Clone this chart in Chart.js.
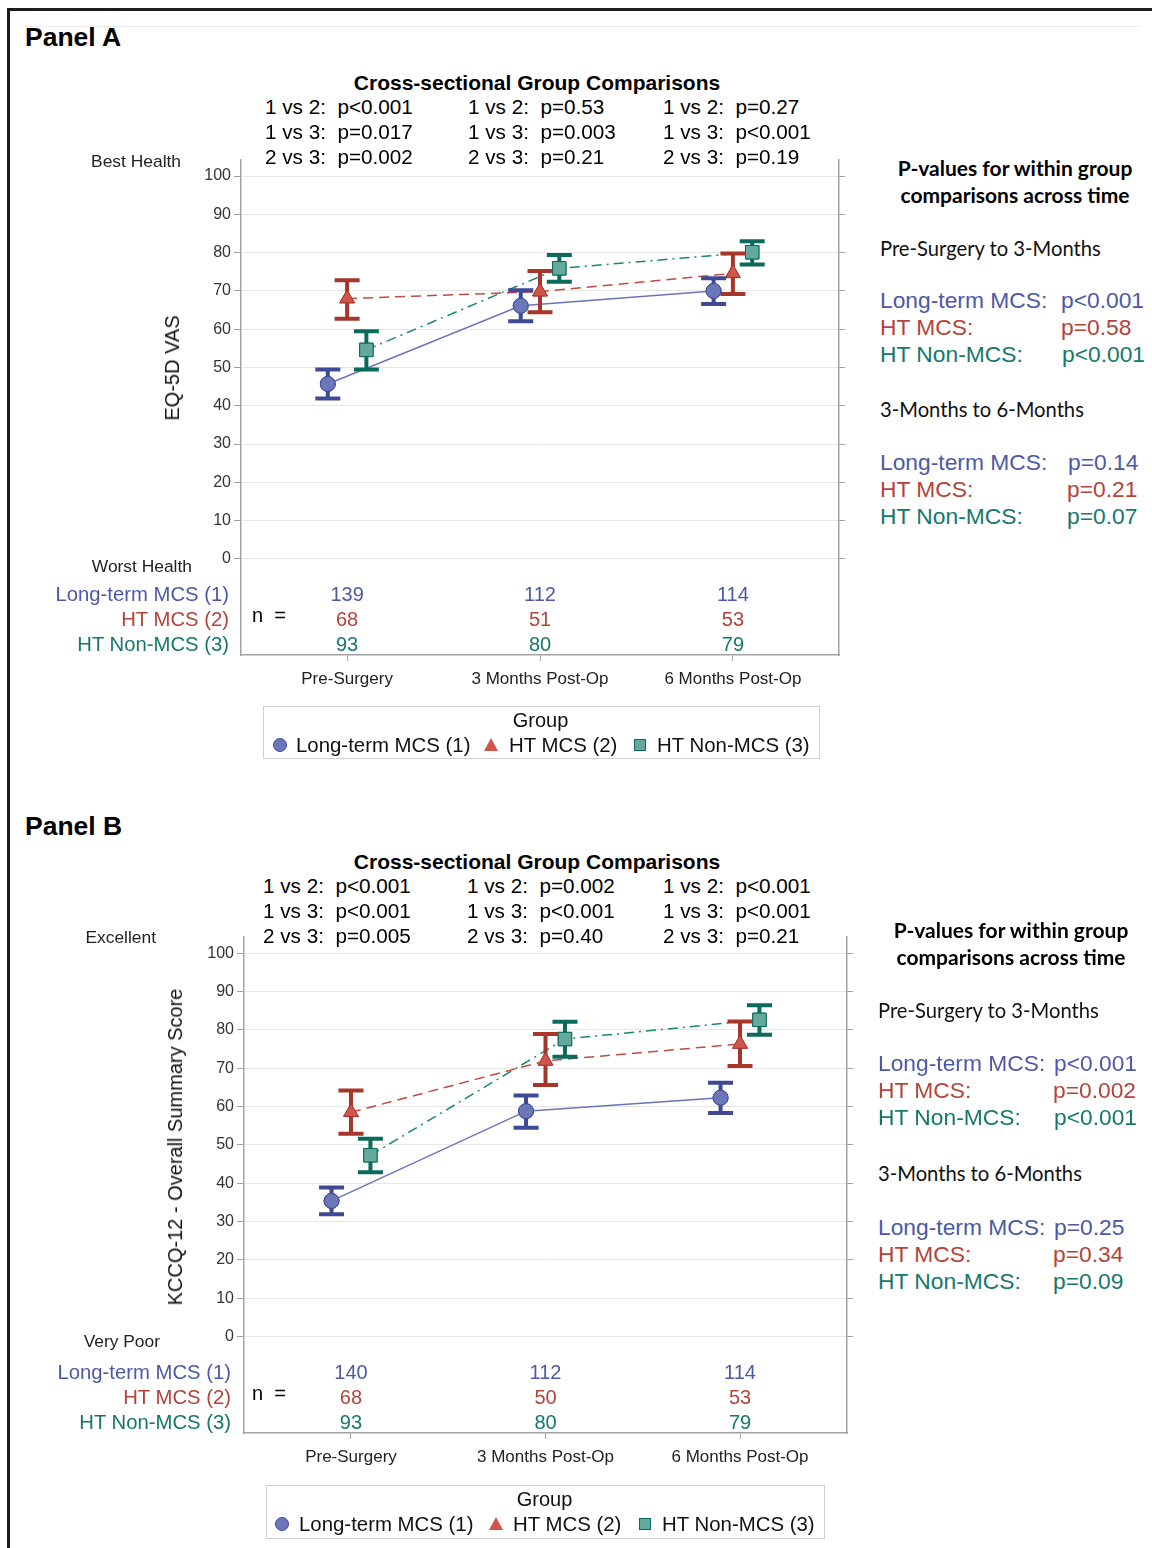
<!DOCTYPE html>
<html>
<head>
<meta charset="utf-8">
<script src="https://cdn.jsdelivr.net/npm/chart.js@4.4.1/dist/chart.umd.min.js"></script>
<style>
  body { margin: 0; background: #fff; }
  #page { position: relative; width: 1152px; height: 1548px; overflow: hidden; font-family: "Liberation Sans", Arial, sans-serif; }
  .t { position: absolute; white-space: pre; line-height: 1; }
  canvas { position: absolute; }
  .frame { position: absolute; left: 7px; top: 8px; width: 1200px; height: 1600px; border-top: 3px solid #1c1c1c; border-left: 3px solid #1c1c1c; }
  .box { position: absolute; border: 1px solid #cfcfcf; }
</style>
</head>
<body>
<div id="page">
  <div class="frame"></div>
  <div style="position:absolute;left:25px;top:26px;width:1115px;height:1px;background:#ececec"></div>
  <canvas id="chartA" width="720" height="570" style="left:140px;top:140px"></canvas>
  <canvas id="chartB" width="728" height="571" style="left:140px;top:917px"></canvas>
</div>
<script>
// time points and groups
const timepoints = ['Pre-Surgery', '3 Months Post-Op', '6 Months Post-Op'];
const groups = ['Long-term MCS (1)', 'HT MCS (2)', 'HT Non-MCS (3)'];
const groupShort = ['Long-term MCS:', 'HT MCS:', 'HT Non-MCS:'];
const yTicks = [0, 10, 20, 30, 40, 50, 60, 70, 80, 90, 100];

// Panel A - EQ-5D VAS (mean, lower, upper)
const vasLongTerm = [45.7, 66.1, 70.0];
const vasLongTermLo = [41.9, 62.1, 66.6];
const vasLongTermHi = [49.5, 70.2, 73.3];
const vasHtMcs = [68.0, 69.8, 74.6];
const vasHtMcsLo = [62.7, 64.4, 69.2];
const vasHtMcsHi = [72.8, 75.2, 79.8];
const vasHtNon = [54.6, 75.9, 80.1];
const vasHtNonLo = [49.5, 72.4, 76.9];
const vasHtNonHi = [59.5, 79.4, 83.0];
const vasN = [[139, 112, 114], [68, 51, 53], [93, 80, 79]];
const vasCross = [
  ['1 vs 2:  p<0.001', '1 vs 3:  p=0.017', '2 vs 3:  p=0.002'],
  ['1 vs 2:  p=0.53', '1 vs 3:  p=0.003', '2 vs 3:  p=0.21'],
  ['1 vs 2:  p=0.27', '1 vs 3:  p<0.001', '2 vs 3:  p=0.19']
];
const vasWithinPre3 = ['p<0.001', 'p=0.58', 'p<0.001'];
const vasWithin36 = ['p=0.14', 'p=0.21', 'p=0.07'];

// Panel B - KCCQ-12 overall summary (mean, lower, upper)
const kccqLongTerm = [35.4, 58.8, 62.3];
const kccqLongTermLo = [31.9, 54.5, 58.3];
const kccqLongTermHi = [38.9, 62.9, 66.2];
const kccqHtMcs = [58.5, 71.9, 76.3];
const kccqHtMcsLo = [52.9, 65.6, 70.6];
const kccqHtMcsHi = [64.2, 78.9, 82.2];
const kccqHtNon = [47.3, 77.6, 82.6];
const kccqHtNonLo = [42.9, 73.0, 78.7];
const kccqHtNonHi = [51.6, 82.1, 86.4];
const kccqN = [[140, 112, 114], [68, 50, 53], [93, 80, 79]];
const kccqCross = [
  ['1 vs 2:  p<0.001', '1 vs 3:  p<0.001', '2 vs 3:  p=0.005'],
  ['1 vs 2:  p=0.002', '1 vs 3:  p<0.001', '2 vs 3:  p=0.40'],
  ['1 vs 2:  p<0.001', '1 vs 3:  p<0.001', '2 vs 3:  p=0.21']
];
const kccqWithinPre3 = ['p<0.001', 'p=0.002', 'p<0.001'];
const kccqWithin36 = ['p=0.25', 'p=0.34', 'p=0.09'];

const blue = { text: '#4c59a6', bar: '#3e4a95', fill: '#6b77b8', line: '#6a74b9' };
const red = { text: '#b4433a', bar: '#a8352a', fill: '#d0564c', line: '#c24a40' };
const green = { text: '#15786a', bar: '#0b6a5b', fill: '#63aa9c', line: '#178878' };
const palette = [blue, red, green];
const offsets = [-0.1, 0, 0.1];

const page = document.getElementById('page');

function put(txt, x, y, size, color, anchor, extra) {
  const d = document.createElement('div');
  d.className = 't';
  d.textContent = txt;
  d.style.left = x + 'px';
  d.style.top = y + 'px';
  d.style.fontSize = size + 'px';
  d.style.color = color || '#000';
  const tx = anchor === 'center' ? '-50%' : anchor === 'right' ? '-100%' : '0';
  d.style.transform = 'translate(' + tx + ',-50%)';
  if (extra) Object.assign(d.style, extra);
  page.appendChild(d);
  return d;
}

// error bars drawn over the lines, then markers redrawn on top
const errorBars = {
  id: 'errorBars',
  afterDatasetsDraw(chart) {
    const ctx = chart.ctx, y = chart.scales.y;
    chart.data.datasets.forEach((ds, i) => {
      const meta = chart.getDatasetMeta(i);
      ctx.save();
      ctx.strokeStyle = ds.barColor;
      ctx.lineWidth = 4;
      meta.data.forEach((pt, j) => {
        const top = y.getPixelForValue(ds.hi[j]);
        const bot = y.getPixelForValue(ds.lo[j]);
        ctx.beginPath();
        ctx.moveTo(pt.x, top); ctx.lineTo(pt.x, bot);
        ctx.moveTo(pt.x - 12.5, top); ctx.lineTo(pt.x + 12.5, top);
        ctx.moveTo(pt.x - 12.5, bot); ctx.lineTo(pt.x + 12.5, bot);
        ctx.stroke();
      });
      ctx.restore();
    });
    chart.data.datasets.forEach((ds, i) => {
      chart.getDatasetMeta(i).data.forEach(pt => pt.draw(ctx, chart.chartArea));
    });
  }
};

// sample sizes inside the bottom of the plot box
const countRows = {
  id: 'countRows',
  afterDraw(chart, args, opts) {
    const ctx = chart.ctx, x = chart.scales.x, b = chart.chartArea.bottom;
    ctx.save();
    ctx.font = '20px "Liberation Sans", Arial, sans-serif';
    ctx.textAlign = 'center';
    ctx.textBaseline = 'middle';
    opts.counts.forEach((row, g) => {
      ctx.fillStyle = palette[g].text;
      row.forEach((n, j) => ctx.fillText(String(n), x.getPixelForValue(j), b - 60 + g * 25));
    });
    ctx.restore();
  }
};

function makeChart(id, series, lows, highs, counts, yw, rw) {
  const styles = [
    { pointStyle: 'circle', pointRadius: 7.5, borderDash: [] },
    { pointStyle: 'triangle', pointRadius: 8.5, borderDash: [10, 6] },
    { pointStyle: 'rect', pointRadius: 9.5, borderDash: [10, 5, 2, 5] }
  ];
  const datasets = series.map((vals, g) => ({
    label: groups[g],
    data: vals.map((v, j) => ({ x: j + offsets[g], y: v })),
    lo: lows[g],
    hi: highs[g],
    barColor: palette[g].bar,
    borderColor: palette[g].line,
    borderWidth: 1.5,
    borderDash: styles[g].borderDash,
    pointStyle: styles[g].pointStyle,
    pointRadius: styles[g].pointRadius,
    pointBackgroundColor: palette[g].fill,
    pointBorderColor: palette[g].bar,
    pointBorderWidth: 1,
    fill: false,
    tension: 0
  }));
  const axisGray = '#a3a3a3';
  return new Chart(document.getElementById(id), {
    type: 'line',
    data: { datasets },
    plugins: [errorBars, countRows],
    options: {
      responsive: false,
      animation: false,
      layout: { padding: { top: 20, left: 0, right: 0, bottom: 0 } },
      plugins: { legend: { display: false }, tooltip: { enabled: false }, countRows: { counts } },
      scales: {
        x: {
          type: 'linear', min: -0.55, max: 2.55,
          afterBuildTicks: s => { s.ticks = timepoints.map((t, i) => ({ value: i })); },
          afterFit: s => { s.height = 55; },
          ticks: { callback: v => timepoints[v], color: '#222', padding: 8, font: { size: 17, family: '"Liberation Sans", Arial' }, maxRotation: 0 },
          grid: { drawOnChartArea: false, tickLength: 6, tickColor: axisGray },
          border: { display: true, color: axisGray, width: 1.5 }
        },
        y: {
          type: 'linear', position: 'left', min: -25.1, max: 104.2,
          afterBuildTicks: s => { s.ticks = yTicks.map(v => ({ value: v })); },
          afterFit: s => { s.width = yw; },
          ticks: { color: '#333', padding: 3, font: { size: 16, family: '"Liberation Sans", Arial' } },
          grid: { color: '#e6e6e6', lineWidth: 1, tickLength: 7, tickColor: axisGray },
          border: { display: true, color: axisGray, width: 1.5 }
        },
        y2: {
          type: 'linear', position: 'right', min: -25.1, max: 104.2,
          afterBuildTicks: s => { s.ticks = yTicks.map(v => ({ value: v })); },
          afterFit: s => { s.width = rw; },
          ticks: { callback: () => '', padding: 0 },
          grid: { drawOnChartArea: false, tickLength: 6, tickColor: axisGray },
          border: { display: true, color: axisGray, width: 1.5 }
        }
      }
    }
  });
}

function legendBox(left, top, width, height) {
  const box = document.createElement('div');
  box.className = 'box';
  Object.assign(box.style, { left: left + 'px', top: top + 'px', width: width + 'px', height: height + 'px' });
  page.appendChild(box);
}

function legend(L) {
  legendBox(L.left, L.top, L.width, L.height);
  put('Group', L.left + L.width / 2, L.top + 14, 20, '#111', 'center');
  const cy = L.top + 38.5;
  const m = L.marks;
  const c = document.createElement('div');
  Object.assign(c.style, { position: 'absolute', left: (m[0] - 7) + 'px', top: (cy - 7) + 'px', width: '12px', height: '12px', borderRadius: '50%', background: blue.fill, border: '1px solid ' + blue.bar });
  page.appendChild(c);
  const tr = document.createElement('div');
  Object.assign(tr.style, { position: 'absolute', left: (m[2] - 7) + 'px', top: (cy - 7) + 'px', width: 0, height: 0, borderLeft: '7px solid transparent', borderRight: '7px solid transparent', borderBottom: '13px solid ' + red.fill });
  page.appendChild(tr);
  const sq = document.createElement('div');
  Object.assign(sq.style, { position: 'absolute', left: (m[4] - 6) + 'px', top: (cy - 6) + 'px', width: '10px', height: '10px', background: green.fill, border: '1.5px solid ' + green.bar });
  page.appendChild(sq);
  put(groups[0], m[1], cy, 20.4, '#111', 'left');
  put(groups[1], m[3], cy, 20.4, '#111', 'left');
  put(groups[2], m[5], cy, 20.4, '#111', 'left');
}

function panel(P) {
  put(P.name, 25, P.nameY, 26.5, '#000', 'left', { fontWeight: 'bold' });
  put('Cross-sectional Group Comparisons', 537, P.titleY, 21, '#000', 'center', { fontWeight: 'bold' });
  P.cross.forEach((col, c) => col.forEach((s, r) => put(s, P.colX[c], P.titleY + 25 + r * 25, 20.7, '#000', 'left')));
  put(P.top[0], P.top[1], P.top[2], 17.4, '#222', 'right');
  put(P.bottom[0], P.bottom[1], P.bottom[2], 17.4, '#222', 'right');
  put(P.yTitle, P.yTitleAt[0], P.yTitleAt[1], 20, '#111', 'center', { transform: 'translate(-50%,-50%) rotate(-90deg)' });
  groups.forEach((g, i) => put(g, P.grpRight, P.grpY + i * 25, 20.3, palette[i].text, 'right'));
  put('n  =', 252, P.grpY + 21, 20, '#000', 'left');
  legend(P.legend);
  const R = P.right;
  const cal = '"Lato", "Open Sans", sans-serif';
  put('P-values for within group', R.titleX, R.titleY, 21, '#000', 'center', { fontWeight: 'bold', fontFamily: cal });
  put('comparisons across time', R.titleX, R.titleY + 27, 21, '#000', 'center', { fontWeight: 'bold', fontFamily: cal });
  put('Pre-Surgery to 3-Months', R.x, R.hdr1, 20.2, '#111', 'left', { fontFamily: cal });
  put('3-Months to 6-Months', R.x, R.hdr2, 20.2, '#111', 'left', { fontFamily: cal });
  groupShort.forEach((g, i) => {
    put(g, R.x, R.rows1 + i * 27, 22.8, palette[i].text, 'left');
    put(P.w1[i], R.pX1[i], R.rows1 + i * 27, 22.8, palette[i].text, 'left');
    put(g, R.x, R.rows2 + i * 27, 22.8, palette[i].text, 'left');
    put(P.w2[i], R.pX2[i], R.rows2 + i * 27, 22.8, palette[i].text, 'left');
  });
}

panel({
  name: 'Panel A', nameY: 37, titleY: 82, colX: [265, 468, 663], cross: vasCross,
  top: ['Best Health', 181, 162], bottom: ['Worst Health', 192, 567],
  yTitle: 'EQ-5D VAS', yTitleAt: [172, 368],
  grpRight: 229, grpY: 594,
  legend: { left: 263, top: 706, width: 555, height: 51, marks: [280, 296, 491, 509, 640, 657] },
  right: { titleX: 1015, titleY: 167, x: 880, hdr1: 248, rows1: 300, hdr2: 409, rows2: 462, pX1: [1061, 1061, 1062], pX2: [1068, 1067, 1067] },
  w1: vasWithinPre3, w2: vasWithin36
});
panel({
  name: 'Panel B', nameY: 826, titleY: 861, colX: [263, 467, 663], cross: kccqCross,
  top: ['Excellent', 156, 938], bottom: ['Very Poor', 160, 1342],
  yTitle: 'KCCQ-12 - Overall Summary Score', yTitleAt: [175, 1147],
  grpRight: 231, grpY: 1372,
  legend: { left: 266, top: 1485, width: 557, height: 52, marks: [282, 299, 496, 513, 645, 662] },
  right: { titleX: 1011, titleY: 929, x: 878, hdr1: 1010, rows1: 1063, hdr2: 1173, rows2: 1227, pX1: [1054, 1053, 1054], pX2: [1054, 1053, 1053] },
  w1: kccqWithinPre3, w2: kccqWithin36
});

makeChart('chartA',
  [vasLongTerm, vasHtMcs, vasHtNon],
  [vasLongTermLo, vasHtMcsLo, vasHtNonLo],
  [vasLongTermHi, vasHtMcsHi, vasHtNonHi],
  vasN, 101, 21);
makeChart('chartB',
  [kccqLongTerm, kccqHtMcs, kccqHtNon],
  [kccqLongTermLo, kccqHtMcsLo, kccqHtNonLo],
  [kccqLongTermHi, kccqHtMcsHi, kccqHtNonHi],
  kccqN, 104, 21);
</script>
</body>
</html>
